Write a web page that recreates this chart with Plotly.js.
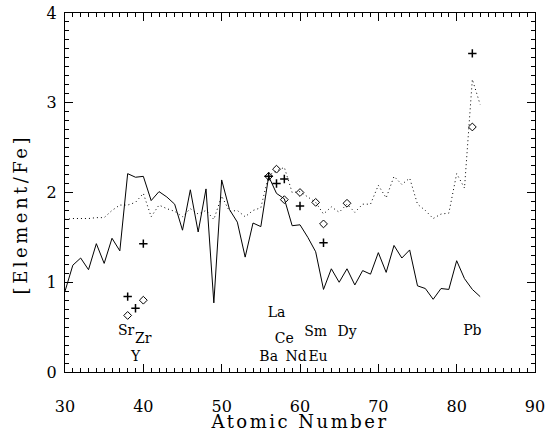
<!DOCTYPE html>
<html>
<head>
<meta charset="utf-8">
<script src="https://cdn.plot.ly/plotly-3.0.1.min.js"></script>
<style>
html,body{margin:0;padding:0;background:#fff;}
#wrap{position:relative;width:549px;height:432px;}
#chart,#frame{position:absolute;left:0;top:0;width:549px;height:432px;}
#frame{pointer-events:none;}
#chart .xtitle{letter-spacing:2.5px;}
#chart .annotation-text{letter-spacing:3.5px;}
</style>
</head>
<body>
<div id="wrap"><div id="chart"></div><div id="frame"></div></div>
<script>
// Model curves (atomic number 30..83)
var modelZ = [30,31,32,33,34,35,36,37,38,39,40,41,42,43,44,45,46,47,48,49,50,51,52,53,54,55,56,57,58,59,60,61,62,63,64,65,66,67,68,69,70,71,72,73,74,75,76,77,78,79,80,81,82,83];
var solidModel = [0.90,1.19,1.27,1.14,1.43,1.21,1.49,1.35,2.21,2.17,2.18,1.91,2.01,1.95,1.87,1.58,2.03,1.56,2.04,0.77,2.14,1.81,1.67,1.28,1.66,1.62,2.18,1.99,1.93,1.63,1.64,1.50,1.34,0.92,1.15,1.00,1.15,0.97,1.13,1.09,1.33,1.11,1.41,1.27,1.36,0.96,0.93,0.81,0.93,0.92,1.24,1.04,0.92,0.84];
var dottedModel = [1.70,1.71,1.71,1.71,1.72,1.72,1.80,1.86,1.86,1.89,1.99,1.73,1.86,1.82,1.79,1.73,1.82,1.76,1.80,1.70,1.96,1.79,1.80,1.73,1.80,1.83,2.19,2.24,2.28,2.00,2.01,1.95,1.89,1.76,1.84,1.78,1.87,1.78,1.87,1.87,2.08,1.94,2.18,2.09,2.16,1.87,1.80,1.71,1.76,1.77,2.21,2.05,3.26,2.98];

// Observed abundances
var plusZ = [38,39,40,56,57,58,60,63,82];
var plusVal = [0.84,0.71,1.43,2.18,2.10,2.15,1.85,1.44,3.55];
var diamondZ = [38,40,56,57,58,60,62,63,66,82];
var diamondVal = [0.63,0.80,2.18,2.26,1.92,2.00,1.89,1.65,1.88,2.73];

// Element labels
var labelText = ["Sr","Zr","Y","La","Ce","Sm","Dy","Ba","Nd","Eu","Pb"];
var labelX = [37.8,40.0,39.0,57.0,58.0,62.0,66.0,56.0,59.5,62.3,82.0];
var labelY = [0.45,0.36,0.16,0.65,0.36,0.44,0.44,0.16,0.16,0.16,0.45];

// Axis ranges and tick steps
var xRange = [30, 90], yRange = [0, 4];
var xMajor = 10, xMinor = 1, yMajor = 1, yMinor = 0.1;

var font = "DejaVu Serif";
var margin = {l: 65, r: 14, t: 13, b: 60};

var traces = [
  {x: modelZ, y: dottedModel, mode: "lines", line: {color: "#000", width: 1, dash: "1px,3px"}},
  {x: modelZ, y: solidModel, mode: "lines", line: {color: "#000", width: 1}},
  {x: plusZ, y: plusVal, mode: "markers", marker: {symbol: "cross-thin", size: 6, line: {color: "#000", width: 1.5}, color: "#000"}},
  {x: diamondZ, y: diamondVal, mode: "markers", marker: {symbol: "diamond-open", size: 6, color: "#000", line: {color: "#000", width: 1}}},
  {x: labelX, y: labelY, mode: "text", text: labelText, textposition: "middle center", textfont: {family: font, size: 14, color: "#000"}}
];

var layout = {
  width: 549, height: 432, margin: margin,
  paper_bgcolor: "#fff", plot_bgcolor: "#fff",
  showlegend: false,
  font: {family: font, color: "#000"},
  xaxis: {
    range: xRange, tickmode: "linear", tick0: xRange[0], dtick: xMajor, ticks: "",
    showline: true, linecolor: "#000", linewidth: 1, mirror: true, showgrid: false, zeroline: false,
    ticklabelstandoff: 20,
    tickfont: {family: font, size: 16, color: "#000"},
    title: {text: "Atomic Number", font: {family: font, size: 18, color: "#000"}, standoff: 4}
  },
  yaxis: {
    range: yRange, tickmode: "linear", tick0: yRange[0], dtick: yMajor, ticks: "",
    showline: true, linecolor: "#000", linewidth: 1, mirror: true, showgrid: false, zeroline: false,
    ticklabelstandoff: 4,
    tickfont: {family: font, size: 16, color: "#000"}
  },
  annotations: [
    {text: "[Element/Fe]", xref: "paper", yref: "paper", x: -0.095, y: 0.44, xanchor: "center", yanchor: "middle", textangle: -90, showarrow: false, font: {family: font, size: 18, color: "#000"}}
  ]
};

// Transparent frame chart carrying the inward major and minor ticks on all four sides
var frameLayout = {
  width: 549, height: 432, margin: margin,
  paper_bgcolor: "rgba(0,0,0,0)", plot_bgcolor: "rgba(0,0,0,0)",
  showlegend: false,
  xaxis: {
    range: xRange, tickmode: "linear", tick0: xRange[0], dtick: xMajor, ticks: "inside", ticklen: 8, tickwidth: 1, tickcolor: "#000",
    minor: {dtick: xMinor, ticks: "inside", ticklen: 4, tickcolor: "#000", tickwidth: 1, showgrid: false},
    showticklabels: false, showline: true, linecolor: "#000", linewidth: 1, mirror: "ticks", showgrid: false, zeroline: false
  },
  yaxis: {
    range: yRange, tickmode: "linear", tick0: yRange[0], dtick: yMajor, ticks: "inside", ticklen: 8, tickwidth: 1, tickcolor: "#000",
    minor: {dtick: yMinor, ticks: "inside", ticklen: 4, tickcolor: "#000", tickwidth: 1, showgrid: false},
    showticklabels: false, showline: true, linecolor: "#000", linewidth: 1, mirror: "ticks", showgrid: false, zeroline: false
  }
};

Plotly.newPlot("chart", traces, layout, {staticPlot: true, displayModeBar: false});
Plotly.newPlot("frame", [{x: [], y: [], mode: "lines"}], frameLayout, {staticPlot: true, displayModeBar: false});
</script>
</body>
</html>
